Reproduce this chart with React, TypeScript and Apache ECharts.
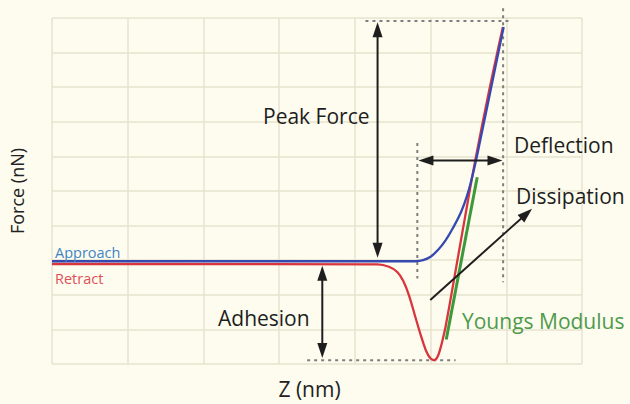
import React, { useEffect, useRef } from 'react';
import * as echarts from 'echarts';

// Z (nm) vs Force (nN)
const approach: [number, number][] = [
  [0, -0.03], [4.7, -0.03], [4.8, -0.03], [4.9, 0.0], [5.0, 0.1], [5.1, 0.3], [5.2, 0.58],
  [5.3, 0.95], [5.4, 1.38], [5.48, 1.85], [5.56, 2.5], [5.65, 3.4], [5.965, 6.74],
];
const retract: [number, number][] = [
  [0, -0.11], [4.3, -0.12], [4.45, -0.19], [4.56, -0.34], [4.64, -0.6], [4.72, -1.05],
  [4.8, -1.65], [4.89, -2.3], [4.97, -2.75], [5.049, -2.89], [5.09, -2.8], [5.13, -2.55],
  [5.17, -2.2], [5.2, -1.9], [5.3, -0.68], [5.45, 1.18], [5.59, 2.88], [5.77, 4.86], [5.955, 6.74],
];
const youngsFit: [number, number][] = [[5.207, -2.29], [5.616, 2.4]];

// annotation segments: [x1, y1, x2, y2, kind]  kind 0 = dashed guide, 1 = double arrow, 2 = single arrow
const annotations: number[][] = [
  [5.958, 7.28, 5.958, -0.64, 0],
  [4.14, 6.91, 6.05, 6.91, 0],
  [4.825, 3.39, 4.825, -0.53, 0],
  [3.37, -2.89, 5.33, -2.89, 0],
  [4.3, 6.88, 4.3, 0.07, 1],
  [4.84, 2.88, 5.95, 2.88, 1],
  [3.57, -0.16, 3.57, -2.83, 1],
  [4.996, -1.15, 6.341, 1.49, 2],
];

const xTicks = { min: 0, max: 7, interval: 1 };
const yTicks = { min: -3, max: 7, interval: 1 };

const labels = ['Peak Force', 'Deflection', 'Dissipation', 'Adhesion', 'Youngs Modulus', 'Approach', 'Retract'];

const FONT = '"Open Sans", "DejaVu Sans", sans-serif';

export default function App() {
  const ref = useRef<HTMLDivElement>(null);
  useEffect(() => {
    document.body.style.margin = '0';
    const chart = echarts.init(ref.current!, undefined, { renderer: 'svg' });
    const txt = (text: string, x: number, y: number, size: number, fill: string) => ({
      type: 'text', x, y, z: 50,
      style: { text, fill, font: `${size}px ${FONT}`, verticalAlign: 'middle', align: 'left' },
    });
    const option: any = {
      animation: false,
      backgroundColor: '#fdfcee',
      textStyle: { fontFamily: FONT },
      grid: { left: 51, top: 18, right: 48, bottom: 34, containLabel: false },
      xAxis: {
        type: 'value', ...xTicks,
        name: 'Z (nm)', nameLocation: 'middle', nameGap: 14,
        nameTextStyle: { fontSize: 21, color: '#222', fontFamily: FONT, padding: [0, 15, 0, 0] },
        axisLine: { show: false }, axisTick: { show: false }, axisLabel: { show: false },
        splitLine: { show: true, lineStyle: { color: '#e6e3cf', width: 1.5 } },
      },
      yAxis: {
        type: 'value', ...yTicks,
        name: 'Force (nN)', nameLocation: 'middle', nameGap: 26, nameRotate: 90,
        nameTextStyle: { fontSize: 18, color: '#222', fontFamily: FONT },
        axisLine: { show: false }, axisTick: { show: false }, axisLabel: { show: false },
        splitLine: { show: true, lineStyle: { color: '#e6e3cf', width: 1.5 } },
      },
      series: [
        {
          type: 'custom', z: 2, clip: false,
          dimensions: ['x1', 'y1', 'x2', 'y2', 'k'],
          encode: { x: ['x1', 'x2'], y: ['y1', 'y2'] },
          data: annotations.filter((a) => a[4] === 0),
          renderItem: (_p: any, api: any) => {
            const a = api.coord([api.value(0), api.value(1)]);
            const b = api.coord([api.value(2), api.value(3)]);
            return {
              type: 'line',
              shape: { x1: a[0], y1: a[1], x2: b[0], y2: b[1] },
              style: { stroke: '#7e7e7e', lineWidth: 2, lineDash: [3, 4] },
            };
          },
        },
        {
          type: 'line', name: 'Retract', data: retract, showSymbol: false, smooth: 0.4,
          lineStyle: { color: '#d8353c', width: 2.3 }, z: 3,
        },
        {
          type: 'line', name: 'Approach', data: approach, showSymbol: false, smooth: 0.4,
          lineStyle: { color: '#3649b0', width: 2.3 }, z: 4,
        },
        {
          type: 'line', name: 'Youngs Modulus', data: youngsFit, showSymbol: false,
          lineStyle: { color: '#3c9a3a', width: 3 }, z: 3,
        },
        {
          type: 'custom', z: 6, clip: false,
          dimensions: ['x1', 'y1', 'x2', 'y2', 'k'],
          encode: { x: ['x1', 'x2'], y: ['y1', 'y2'] },
          data: annotations.filter((a) => a[4] !== 0),
          renderItem: (_p: any, api: any) => {
            const a = api.coord([api.value(0), api.value(1)]);
            const b = api.coord([api.value(2), api.value(3)]);
            const kind = api.value(4);
            const L = 15, W = 5;
            const dx = b[0] - a[0], dy = b[1] - a[1];
            const len = Math.hypot(dx, dy);
            const ux = dx / len, uy = dy / len, nx = -uy, ny = ux;
            const head = (tip: number[], dir: number) => {
              const bx = tip[0] - dir * ux * L, by = tip[1] - dir * uy * L;
              return {
                type: 'polygon',
                shape: { points: [[tip[0], tip[1]], [bx + nx * W, by + ny * W], [bx - nx * W, by - ny * W]] },
                style: { fill: '#1e1e1e' },
              };
            };
            const s0 = kind === 1 ? L * 0.6 : 0;
            const children: any[] = [
              {
                type: 'line',
                shape: { x1: a[0] + ux * s0, y1: a[1] + uy * s0, x2: b[0] - ux * L * 0.6, y2: b[1] - uy * L * 0.6 },
                style: { stroke: '#1e1e1e', lineWidth: 2 },
              },
              head(b, 1),
            ];
            if (kind === 1) children.push(head(a, -1));
            return { type: 'group', children };
          },
        },
      ],
      graphic: [
        txt(labels[0], 263, 116, 21, '#1e1e1e'),
        txt(labels[1], 514, 145, 21, '#1e1e1e'),
        txt(labels[2], 516, 196, 21, '#1e1e1e'),
        txt(labels[3], 218, 318, 21, '#1e1e1e'),
        txt(labels[4], 462, 321, 21, '#4f9a4c'),
        txt(labels[5], 55, 252, 14.5, '#3f85c4'),
        txt(labels[6], 55, 278, 14.5, '#df4f5a'),
      ],
    };
    chart.setOption(option);
    return () => chart.dispose();
  }, []);
  return <div ref={ref} style={{ position: 'absolute', left: 0, top: 0, width: 630, height: 404 }} />;
}
